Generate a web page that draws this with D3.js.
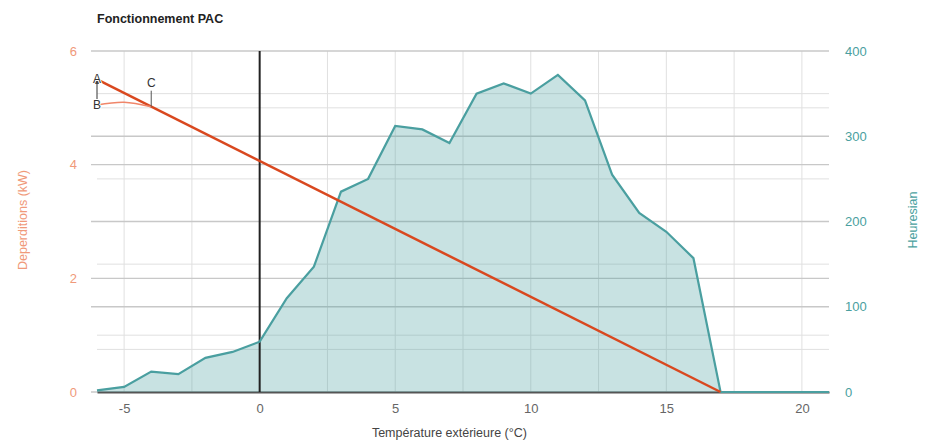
<!DOCTYPE html>
<html>
<head>
<meta charset="utf-8">
<script src="https://cdn.jsdelivr.net/npm/d3@7"></script>
<style>
  body { margin: 0; background: #fff; }
  text { font-family: "Liberation Sans", Arial, sans-serif; }
  .grid-major { stroke: #c8c8c8; stroke-width: 1.3; }
  .grid-minor { stroke: #e0e0e0; stroke-width: 1; }
</style>
</head>
<body>
<div class="container"></div>
<script>
// temperatures (°C) and Heuresian hours
var temps = [-6, -5, -4, -3, -2, -1, 0, 1, 2, 3, 4, 5, 6, 7, 8, 9, 10, 11, 12, 13, 14, 15, 16, 17, 18, 19, 20, 21];
var heures = [2, 6, 24, 21, 40, 47, 59, 110, 147, 235, 250, 312, 308, 292, 350, 362, 350, 372, 342, 255, 210, 188, 157, 0, 0, 0, 0, 0];

// deperditions line (kW)
var depTemps = [-6, 17];
var depValues = [5.5, 0];

// annotation points A, B, C and the B->C curve
var annotLabels = ['A', 'B', 'C'];
var annotX = [-6, -6, -4];
var annotY = [5.5, 5.05, 5.02];
var curveX = [-6, -5, -4];
var curveY = [5.05, 5.1, 5.02];

var xTicks = [-5, 0, 5, 10, 15, 20];
var leftTicks = [0, 2, 4, 6];
var rightTicks = [0, 100, 200, 300, 400];

const WIDTH = 926;
const HEIGHT = 443;
const MARGIN = {top: 51, right: 97, bottom: 51, left: 97};
const INNER_WIDTH = WIDTH - MARGIN.left - MARGIN.right;
const INNER_HEIGHT = HEIGHT - MARGIN.top - MARGIN.bottom;

var translate = function (x, y) {
  return "translate(" + x + "," + y + ")";
};
var plain = function (d) { return String(d); };

var svg = d3.select('.container').append('svg')
  .attr('width', WIDTH)
  .attr('height', HEIGHT);

var xScale = d3.scaleLinear().domain([-6, 21]).range([0, INNER_WIDTH]);
var yLeft = d3.scaleLinear().domain([0, 6]).range([INNER_HEIGHT, 0]);
var yRight = d3.scaleLinear().domain([0, 400]).range([INNER_HEIGHT, 0]);

var g = svg.append('g').attr('transform', translate(MARGIN.left, MARGIN.top));

// title
svg.append('text')
  .attr('x', MARGIN.left)
  .attr('y', 23)
  .attr('font-size', 12.5)
  .attr('font-weight', 'bold')
  .attr('fill', '#222')
  .text('Fonctionnement PAC');

// grid
var grid = g.append('g');
d3.range(-5, 21, 2.5).filter(function (v) { return v !== 0; }).forEach(function (v) {
  grid.append('line')
    .attr('class', 'grid-minor')
    .attr('x1', xScale(v)).attr('x2', xScale(v))
    .attr('y1', 0).attr('y2', INNER_HEIGHT);
});
d3.range(0, 7, 1).forEach(function (v) {
  grid.append('line')
    .attr('class', v % 2 === 0 ? 'grid-major' : 'grid-minor')
    .attr('x1', v % 2 === 0 ? -6 : 0).attr('x2', INNER_WIDTH)
    .attr('y1', yLeft(v)).attr('y2', yLeft(v));
});
d3.range(50, 400, 50).forEach(function (v) {
  grid.append('line')
    .attr('class', v % 100 === 0 ? 'grid-major' : 'grid-minor')
    .attr('x1', v % 100 === 0 ? -6 : 0).attr('x2', INNER_WIDTH)
    .attr('y1', yRight(v)).attr('y2', yRight(v));
});

// x axis
var xAxis = d3.axisBottom(xScale).tickValues(xTicks).tickFormat(plain).tickSize(0).tickPadding(12);
var gx = g.append('g')
  .attr('transform', translate(0, INNER_HEIGHT))
  .call(xAxis);
gx.select('.domain').attr('stroke', '#555').attr('stroke-width', 2);
gx.selectAll('text').attr('font-size', 13).attr('fill', '#666');

var yAxisL = d3.axisLeft(yLeft).tickValues(leftTicks).tickFormat(plain).tickSize(0).tickPadding(20);
var gyl = g.append('g').call(yAxisL);
gyl.select('.domain').remove();
gyl.selectAll('text').attr('font-size', 13).attr('fill', '#f0997a');

var yAxisR = d3.axisRight(yRight).tickValues(rightTicks).tickFormat(plain).tickSize(0).tickPadding(16);
var gyr = g.append('g').attr('transform', translate(INNER_WIDTH, 0)).call(yAxisR);
gyr.select('.domain').remove();
gyr.selectAll('text').attr('font-size', 13).attr('fill', '#4a9fa0');

// axis titles
svg.append('text')
  .attr('x', MARGIN.left + xScale(7.0))
  .attr('y', 437)
  .attr('text-anchor', 'middle')
  .attr('font-size', 12.5)
  .attr('fill', '#444')
  .text('Température extérieure (°C)');

svg.append('text')
  .attr('transform', translate(27, 220) + ' rotate(-90)')
  .attr('text-anchor', 'middle')
  .attr('font-size', 12.5)
  .attr('fill', '#f0997a')
  .text('Deperditions (kW)');

svg.append('text')
  .attr('transform', translate(917, 220) + ' rotate(-90)')
  .attr('text-anchor', 'middle')
  .attr('font-size', 12.5)
  .attr('fill', '#4a9fa0')
  .text('Heuresian');

// heuresian area
var hData = temps.map(function (t, i) { return [t, heures[i]]; });
var area = d3.area()
  .x(function (d) { return xScale(d[0]); })
  .y0(INNER_HEIGHT)
  .y1(function (d) { return yRight(d[1]); });
var line = d3.line()
  .x(function (d) { return xScale(d[0]); })
  .y(function (d) { return yRight(d[1]); });

g.append('path')
  .attr('d', area(hData))
  .attr('fill', '#4a9fa0')
  .attr('fill-opacity', 0.3);

// zero line
g.append('line')
  .attr('x1', xScale(0)).attr('x2', xScale(0))
  .attr('y1', 0).attr('y2', INNER_HEIGHT)
  .attr('stroke', '#222').attr('stroke-width', 2);

g.append('path')
  .attr('d', line(hData))
  .attr('fill', 'none')
  .attr('stroke', '#4a9fa0')
  .attr('stroke-width', 2.2);

// deperditions
var dData = depTemps.map(function (t, i) { return [t, depValues[i]]; });
var dLine = d3.line()
  .x(function (d) { return xScale(d[0]); })
  .y(function (d) { return yLeft(d[1]); });
g.append('path')
  .attr('d', dLine(dData))
  .attr('fill', 'none')
  .attr('stroke', '#d9481f')
  .attr('stroke-width', 2.5);

// annotations
var cData = curveX.map(function (t, i) { return [t, curveY[i]]; });
g.append('path')
  .attr('d', d3.line().curve(d3.curveNatural)
    .x(function (d) { return xScale(d[0]); })
    .y(function (d) { return yLeft(d[1]); })(cData))
  .attr('fill', 'none')
  .attr('stroke', '#f0866a')
  .attr('stroke-width', 1.5);

svg.append('defs').append('marker')
  .attr('id', 'arrow')
  .attr('viewBox', '0 0 10 10')
  .attr('refX', 5).attr('refY', 5)
  .attr('markerWidth', 5).attr('markerHeight', 5)
  .attr('orient', 'auto')
  .append('path')
  .attr('d', 'M0,0 L10,5 L0,10 z')
  .attr('fill', '#444');

g.append('line')
  .attr('x1', xScale(annotX[1])).attr('x2', xScale(annotX[0]))
  .attr('y1', yLeft(annotY[1]) - 6).attr('y2', yLeft(annotY[0]) + 2)
  .attr('stroke', '#555').attr('stroke-width', 1.2)
  .attr('marker-end', 'url(#arrow)');

g.append('line')
  .attr('x1', xScale(annotX[2])).attr('x2', xScale(annotX[2]))
  .attr('y1', yLeft(annotY[2]) - 16).attr('y2', yLeft(annotY[2]))
  .attr('stroke', '#555').attr('stroke-width', 1);

annotLabels.forEach(function (lab, i) {
  var x = xScale(annotX[i]);
  var y = yLeft(annotY[i]);
  var dy = i === 2 ? -20 : 4;
  g.append('text')
    .attr('x', x)
    .attr('y', y + dy)
    .attr('text-anchor', 'middle')
    .attr('font-size', 12)
    .attr('fill', '#333')
    .attr('stroke', '#fff')
    .attr('stroke-width', 2)
    .attr('paint-order', 'stroke')
    .text(lab);
});
</script>
</body>
</html>
